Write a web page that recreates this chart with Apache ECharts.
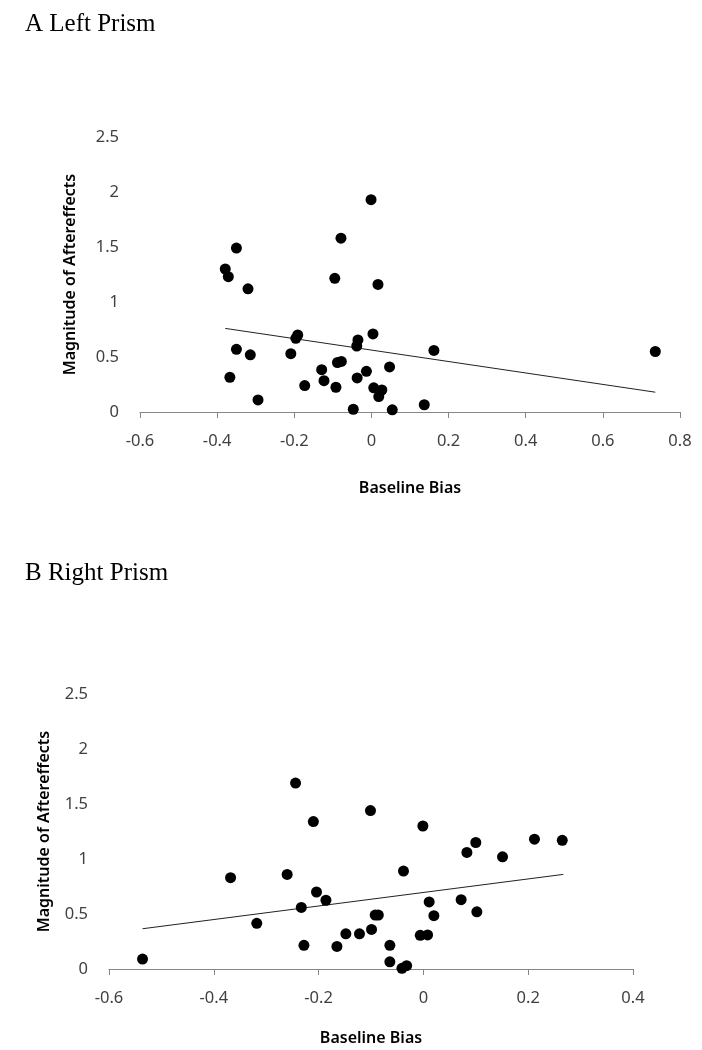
<!DOCTYPE html>
<html>
<head>
<meta charset="utf-8">
<script src="https://cdn.jsdelivr.net/npm/echarts@6/dist/echarts.min.js"></script>
<style>
html,body{margin:0;padding:0;background:#fff;}
#chart{width:702px;height:1050px;}
</style>
</head>
<body>
<div id="chart"></div>
<script>
// Panel A: Left Prism
const leftX = [-0.379,-0.371,-0.350,-0.320,-0.350,-0.314,-0.367,-0.294,-0.209,-0.191,-0.196,-0.173,-0.129,-0.123,-0.095,-0.079,-0.092,-0.088,-0.078,-0.047,-0.037,-0.035,-0.038,-0.013,-0.001,0.017,0.004,0.006,0.027,0.019,0.047,0.054,0.162,0.137,0.736];
const leftY = [1.30,1.23,1.49,1.12,0.57,0.52,0.315,0.11,0.53,0.70,0.67,0.24,0.385,0.285,1.215,1.58,0.225,0.45,0.46,0.025,0.31,0.655,0.60,0.37,1.93,1.16,0.71,0.22,0.20,0.14,0.41,0.02,0.56,0.066,0.55];
const leftTrendX = [-0.379, 0.736];
const leftTrendY = [0.76, 0.18];
const leftTicksX = {min:-0.6, max:0.8, interval:0.2};

// Panel B: Right Prism
const rightX = [-0.536,-0.368,-0.318,-0.260,-0.244,-0.233,-0.228,-0.210,-0.204,-0.186,-0.165,-0.148,-0.122,-0.099,-0.101,-0.092,-0.086,-0.064,-0.064,-0.041,-0.032,-0.038,-0.001,-0.006,0.008,0.011,0.020,0.072,0.083,0.100,0.102,0.151,0.212,0.265];
const rightY = [0.09,0.83,0.415,0.86,1.69,0.56,0.215,1.34,0.70,0.625,0.205,0.32,0.32,0.36,1.44,0.49,0.49,0.215,0.065,0.006,0.03,0.89,1.30,0.306,0.31,0.61,0.485,0.63,1.06,1.15,0.52,1.02,1.18,1.17];
const rightTrendX = [-0.536, 0.267];
const rightTrendY = [0.366, 0.86];
const rightTicksX = {min:-0.6, max:0.4, interval:0.2};

const yTicks = {min:0, max:2.5, interval:0.5};

const titles = ['A Left Prism', 'B Right Prism'];
const xName = 'Baseline Bias';
const yName = 'Magnitude of Aftereffects';

const zip = (xs, ys) => xs.map((x, i) => [x, ys[i]]);

const labelFont = {fontFamily:'Noto Sans', fontSize:16.5, color:'#404040'};
const nameFont = {fontFamily:'Noto Sans', fontSize:16, fontWeight:600, color:'#000'};

function xAxisCfg(idx, t, gap){
  return {
    type:'value', gridIndex:idx, min:t.min, max:t.max, interval:t.interval,
    name:xName, nameLocation:'middle', nameGap:gap, nameTextStyle:nameFont,
    axisLine:{show:true, onZero:false, lineStyle:{color:'#868686', width:1}},
    axisTick:{show:true, inside:false, length:6, lineStyle:{color:'#868686'}},
    axisLabel:Object.assign({margin:21}, labelFont),
    splitLine:{show:false}
  };
}
function yAxisCfg(idx, gap){
  return {
    type:'value', gridIndex:idx, min:yTicks.min, max:yTicks.max, interval:yTicks.interval,
    name:yName, nameLocation:'middle', nameGap:gap, nameRotate:90, nameTextStyle:nameFont,
    axisLine:{show:false}, axisTick:{show:false},
    axisLabel:Object.assign({margin:21}, labelFont),
    splitLine:{show:false}
  };
}

const chart = echarts.init(document.getElementById('chart'), null, {renderer:'canvas'});
chart.setOption({
  backgroundColor:'#fff',
  animation:false,
  title:[
    {text:titles[0], left:20, top:7, textStyle:{fontFamily:'Liberation Serif', fontSize:25, fontWeight:'normal', color:'#000'}},
    {text:titles[1], left:20, top:556, textStyle:{fontFamily:'Liberation Serif', fontSize:25, fontWeight:'normal', color:'#000'}}
  ],
  grid:[
    {left:140, right:22, top:137, height:275},
    {left:109, right:69, top:694, height:275}
  ],
  xAxis:[xAxisCfg(0, leftTicksX, 68), xAxisCfg(1, rightTicksX, 61)],
  yAxis:[yAxisCfg(0, 62), yAxisCfg(1, 57)],
  series:[
    {type:'line', xAxisIndex:0, yAxisIndex:0, data:zip(leftTrendX, leftTrendY), symbol:'none', lineStyle:{color:'#222', width:1}, z:1},
    {type:'scatter', xAxisIndex:0, yAxisIndex:0, data:zip(leftX, leftY), symbolSize:11, itemStyle:{color:'#000', opacity:1}, z:2},
    {type:'line', xAxisIndex:1, yAxisIndex:1, data:zip(rightTrendX, rightTrendY), symbol:'none', lineStyle:{color:'#222', width:1}, z:1},
    {type:'scatter', xAxisIndex:1, yAxisIndex:1, data:zip(rightX, rightY), symbolSize:11, itemStyle:{color:'#000', opacity:1}, z:2}
  ]
});
</script>
</body>
</html>
